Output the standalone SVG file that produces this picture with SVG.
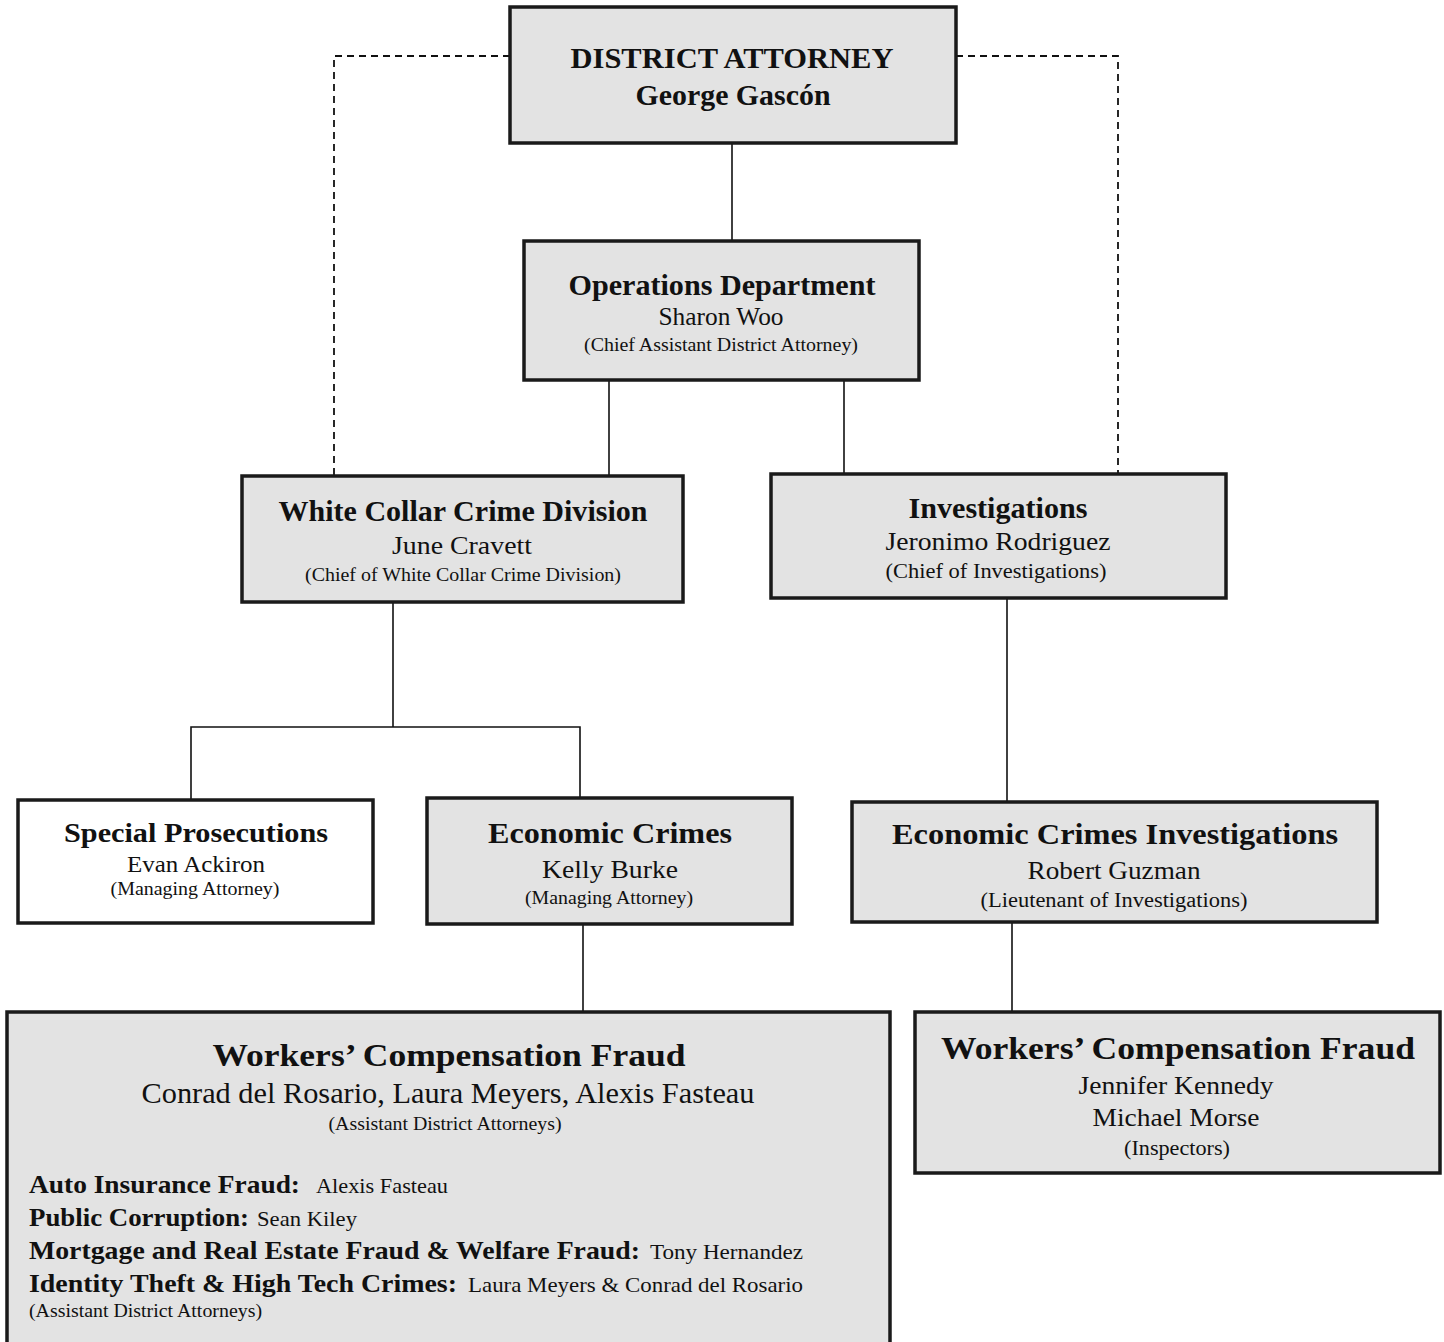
<svg xmlns="http://www.w3.org/2000/svg" width="1444" height="1342" viewBox="0 0 1444 1342">
<style>
.box{fill:#e3e3e3;stroke:#1a1a1a;stroke-width:3.5}
.wbox{fill:#ffffff;stroke:#1a1a1a;stroke-width:3.5}
.ln{stroke:#111;stroke-width:1.6;fill:none}
.dash{stroke:#111;stroke-width:1.8;fill:none;stroke-dasharray:7 5}
text{font-family:"Liberation Serif","Times New Roman",serif;fill:#111}
.c{text-anchor:middle}
.b{font-weight:bold}
</style>
<rect width="1444" height="1342" fill="#ffffff"/>
<g id="connectors">
<line class="ln" x1="732" y1="143" x2="732" y2="241"/>
<line class="ln" x1="609" y1="380" x2="609" y2="476"/>
<line class="ln" x1="844" y1="380" x2="844" y2="474"/>
<polyline class="dash" points="510,56 334,56 334,476"/>
<polyline class="dash" points="956,56 1118,56 1118,474"/>
<line class="ln" x1="393" y1="602" x2="393" y2="727"/>
<polyline class="ln" points="191,800 191,727 580,727 580,798"/>
<line class="ln" x1="1007" y1="598" x2="1007" y2="802"/>
<line class="ln" x1="583" y1="924" x2="583" y2="1012"/>
<line class="ln" x1="1012" y1="922" x2="1012" y2="1012"/>
</g>
<g id="district-attorney">
<rect class="box" x="510" y="7" width="446" height="136"/>
<text class="c b" x="732" y="68" font-size="29" textLength="323" lengthAdjust="spacingAndGlyphs">DISTRICT ATTORNEY</text>
<text class="c b" x="733" y="105" font-size="29" textLength="195" lengthAdjust="spacingAndGlyphs">George Gascón</text>
</g>
<g id="operations">
<rect class="box" x="524" y="241" width="395" height="139"/>
<text class="c b" x="722" y="295" font-size="29" textLength="307" lengthAdjust="spacingAndGlyphs">Operations Department</text>
<text class="c" x="721" y="325" font-size="25" textLength="125" lengthAdjust="spacingAndGlyphs">Sharon Woo</text>
<text class="c" x="721" y="351" font-size="18" textLength="274" lengthAdjust="spacingAndGlyphs">(Chief Assistant District Attorney)</text>
</g>
<g id="white-collar">
<rect class="box" x="242" y="476" width="441" height="126"/>
<text class="c b" x="463" y="521" font-size="29" textLength="369" lengthAdjust="spacingAndGlyphs">White Collar Crime Division</text>
<text class="c" x="462" y="554" font-size="25" textLength="140" lengthAdjust="spacingAndGlyphs">June Cravett</text>
<text class="c" x="463" y="581" font-size="19" textLength="316" lengthAdjust="spacingAndGlyphs">(Chief of White Collar Crime Division)</text>
</g>
<g id="investigations">
<rect class="box" x="771" y="474" width="455" height="124"/>
<text class="c b" x="998" y="518" font-size="29" textLength="179" lengthAdjust="spacingAndGlyphs">Investigations</text>
<text class="c" x="998" y="550" font-size="25" textLength="225" lengthAdjust="spacingAndGlyphs">Jeronimo Rodriguez</text>
<text class="c" x="996" y="578" font-size="21" textLength="221" lengthAdjust="spacingAndGlyphs">(Chief of Investigations)</text>
</g>
<g id="special-prosecutions">
<rect class="wbox" x="18" y="800" width="355" height="123"/>
<text class="c b" x="196" y="842" font-size="28" textLength="264" lengthAdjust="spacingAndGlyphs">Special Prosecutions</text>
<text class="c" x="196" y="872" font-size="24" textLength="138" lengthAdjust="spacingAndGlyphs">Evan Ackiron</text>
<text class="c" x="195" y="895" font-size="18" textLength="169" lengthAdjust="spacingAndGlyphs">(Managing Attorney)</text>
</g>
<g id="economic-crimes">
<rect class="box" x="427" y="798" width="365" height="126"/>
<text class="c b" x="610" y="843" font-size="29" textLength="244" lengthAdjust="spacingAndGlyphs">Economic Crimes</text>
<text class="c" x="610" y="878" font-size="25" textLength="136" lengthAdjust="spacingAndGlyphs">Kelly Burke</text>
<text class="c" x="609" y="904" font-size="19" textLength="168" lengthAdjust="spacingAndGlyphs">(Managing Attorney)</text>
</g>
<g id="economic-crimes-investigations">
<rect class="box" x="852" y="802" width="525" height="120"/>
<text class="c b" x="1115" y="844" font-size="29" textLength="446" lengthAdjust="spacingAndGlyphs">Economic Crimes Investigations</text>
<text class="c" x="1114" y="879" font-size="25" textLength="173" lengthAdjust="spacingAndGlyphs">Robert Guzman</text>
<text class="c" x="1114" y="907" font-size="20" textLength="267" lengthAdjust="spacingAndGlyphs">(Lieutenant of Investigations)</text>
</g>
<g id="wcf-attorneys">
<rect class="box" x="7" y="1012" width="883" height="345"/>
<text class="c b" x="449" y="1066" font-size="32" textLength="473" lengthAdjust="spacingAndGlyphs">Workers’ Compensation Fraud</text>
<text class="c" x="448" y="1103" font-size="29" textLength="613" lengthAdjust="spacingAndGlyphs">Conrad del Rosario, Laura Meyers, Alexis Fasteau</text>
<text class="c" x="445" y="1130" font-size="19" textLength="233" lengthAdjust="spacingAndGlyphs">(Assistant District Attorneys)</text>
<text class="b" x="29" y="1193" font-size="25" textLength="271" lengthAdjust="spacingAndGlyphs">Auto Insurance Fraud:</text>
<text x="316" y="1193" font-size="21" textLength="132" lengthAdjust="spacingAndGlyphs">Alexis Fasteau</text>
<text class="b" x="29" y="1226" font-size="25" textLength="220" lengthAdjust="spacingAndGlyphs">Public Corruption:</text>
<text x="257" y="1226" font-size="21" textLength="100" lengthAdjust="spacingAndGlyphs">Sean Kiley</text>
<text class="b" x="29" y="1259" font-size="25" textLength="611" lengthAdjust="spacingAndGlyphs">Mortgage and Real Estate Fraud &amp; Welfare Fraud:</text>
<text x="650" y="1259" font-size="21" textLength="153" lengthAdjust="spacingAndGlyphs">Tony Hernandez</text>
<text class="b" x="29" y="1292" font-size="25" textLength="428" lengthAdjust="spacingAndGlyphs">Identity Theft &amp; High Tech Crimes:</text>
<text x="468" y="1292" font-size="21" textLength="335" lengthAdjust="spacingAndGlyphs">Laura Meyers &amp; Conrad del Rosario</text>
<text x="29" y="1317" font-size="19" textLength="233" lengthAdjust="spacingAndGlyphs">(Assistant District Attorneys)</text>
</g>
<g id="wcf-inspectors">
<rect class="box" x="915" y="1012" width="525" height="161"/>
<text class="c b" x="1178" y="1059" font-size="32" textLength="474" lengthAdjust="spacingAndGlyphs">Workers’ Compensation Fraud</text>
<text class="c" x="1176" y="1094" font-size="25" textLength="195" lengthAdjust="spacingAndGlyphs">Jennifer Kennedy</text>
<text class="c" x="1176" y="1126" font-size="25" textLength="167" lengthAdjust="spacingAndGlyphs">Michael Morse</text>
<text class="c" x="1177" y="1155" font-size="20" textLength="106" lengthAdjust="spacingAndGlyphs">(Inspectors)</text>
</g>
</svg>
